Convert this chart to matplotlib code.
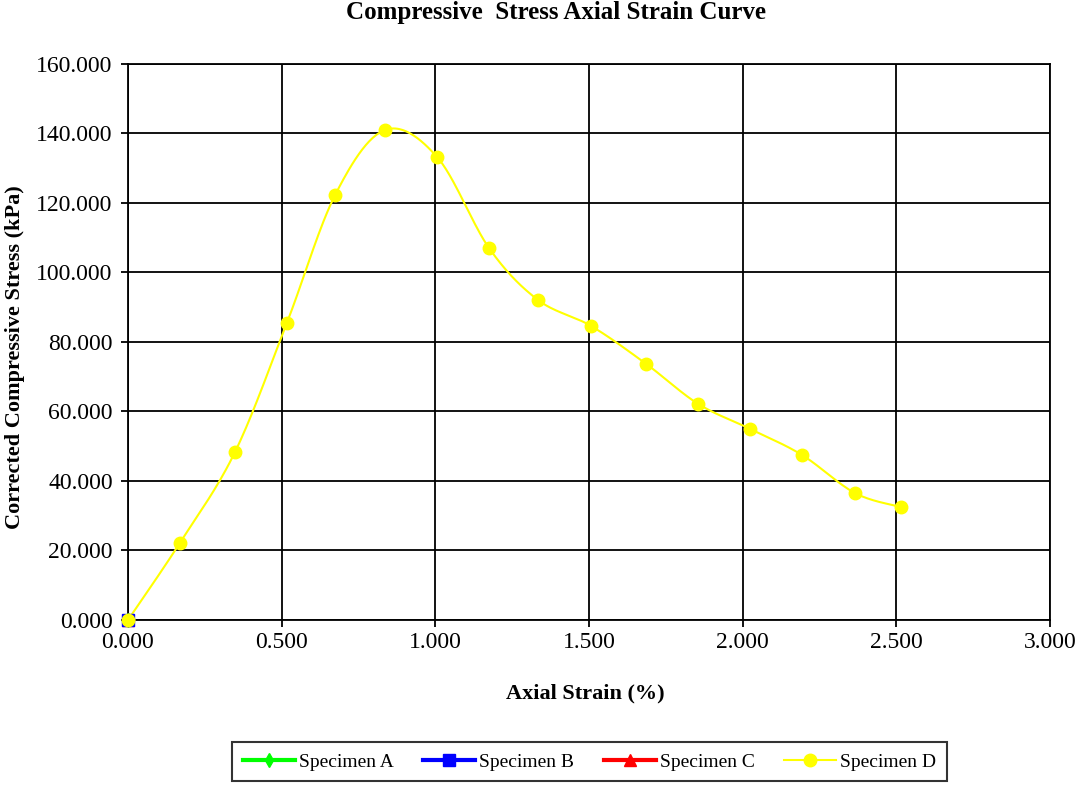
import numpy as np
import matplotlib
matplotlib.use("Agg")
import matplotlib.pyplot as plt
from matplotlib.lines import Line2D

plt.rcParams['font.family'] = ['Liberation Serif', 'DejaVu Serif']

# specimen D readings
strain_d = [0.000, 0.169, 0.348, 0.517, 0.674, 0.836, 1.006, 1.175, 1.334,
            1.507, 1.686, 1.855, 2.024, 2.193, 2.366, 2.516]
stress_d = [0.0, 22.2, 48.3, 85.5, 122.3, 141.0, 133.2, 107.0, 92.1,
            84.6, 73.7, 62.2, 55.0, 47.5, 36.5, 32.5]

# specimens A-C only have the origin point
strain_a, stress_a = [0.0], [0.0]
strain_b, stress_b = [0.0], [0.0]
strain_c, stress_c = [0.0], [0.0]

x_ticks = [0, 0.5, 1.0, 1.5, 2.0, 2.5, 3.0]
y_ticks = [0, 20, 40, 60, 80, 100, 120, 140, 160]


def smooth(xs, ys, n=30):
    # catmull-rom style smoothing like spreadsheet "smoothed line"
    p = np.column_stack([xs, ys])
    p = np.vstack([p[0], p, p[-1]])
    out = []
    for i in range(1, len(p) - 2):
        p0, p1, p2, p3 = p[i - 1], p[i], p[i + 1], p[i + 2]
        c1 = p1 + (p2 - p0) / 6
        c2 = p2 - (p3 - p1) / 6
        t = np.linspace(0, 1, n)[:, None]
        seg = ((1 - t) ** 3 * p1 + 3 * (1 - t) ** 2 * t * c1
               + 3 * (1 - t) * t ** 2 * c2 + t ** 3 * p2)
        out.append(seg)
    out = np.vstack(out)
    return out[:, 0], out[:, 1]


fig = plt.figure(figsize=(10.81, 7.87), dpi=100)
ax = fig.add_axes([0.1184, 0.2122, 0.8529, 0.7065])

sx, sy = smooth(strain_d, stress_d)
ax.plot(sx, sy, color='#ffff00', lw=1.5, zorder=3)
ax.plot(strain_d, stress_d, 'o', color='#ffff00', ms=9, zorder=4)

ax.plot(strain_a, stress_a, 'd', color='#00ff00', ms=7, zorder=5, clip_on=False)
ax.plot(strain_c, stress_c, '^', color='#ff0000', ms=9, zorder=5, clip_on=False)
ax.plot(strain_b, stress_b, 's', color='#0000ff', ms=8, zorder=6, clip_on=False)
ax.plot(strain_d[:1], stress_d[:1], 'o', color='#ffff00', ms=9, zorder=7, clip_on=False)

ax.set_xlim(0, 3)
ax.set_ylim(0, 160)
ax.set_xticks(x_ticks)
ax.set_yticks(y_ticks)
ax.set_xticklabels([f'{v:.3f}' for v in x_ticks])
ax.set_yticklabels([f'{v:.3f}' for v in y_ticks])
ax.tick_params(labelsize=17, length=5, width=1.3, direction='out', color='black')
ax.tick_params(axis='y', pad=6)
ax.tick_params(axis='x', pad=4)
ax.grid(True, color='black', lw=1.3)
for s in ax.spines.values():
    s.set_color('black')
    s.set_linewidth(1.3)
ax.set_axisbelow(True)

ax.set_xlabel('Axial Strain (%)', fontsize=16, fontweight='bold', va='center')
ax.xaxis.set_label_coords(0.4957, -0.1313)
ax.set_ylabel('Corrected Compressive Stress (kPa)', fontsize=16, fontweight='bold', va='center')
ax.yaxis.set_label_coords(-0.1226, 0.473)
fig.text(0.5145, 0.984, 'Compressive  Stress Axial Strain Curve', ha='center', va='center',
         fontsize=18, fontweight='bold')

handles = [
    Line2D([], [], color='#00ff00', lw=3, marker='d', ms=7),
    Line2D([], [], color='#0000ff', lw=3, marker='s', ms=8),
    Line2D([], [], color='#ff0000', lw=3, marker='^', ms=8),
    Line2D([], [], color='#ffff00', lw=1.5, marker='o', ms=9),
]
labels = ['Specimen A', 'Specimen B', 'Specimen C', 'Specimen D']
leg = fig.legend(handles, labels, loc='center', bbox_to_anchor=(0.5453, 0.0318),
                 ncol=4, fontsize=14, frameon=True, fancybox=False,
                 edgecolor='black', handlelength=2.7, columnspacing=1.5,
                 handletextpad=0.2, borderpad=0.55)
leg.get_frame().set_linewidth(1.5)

fig.savefig('out.png', dpi=100)
